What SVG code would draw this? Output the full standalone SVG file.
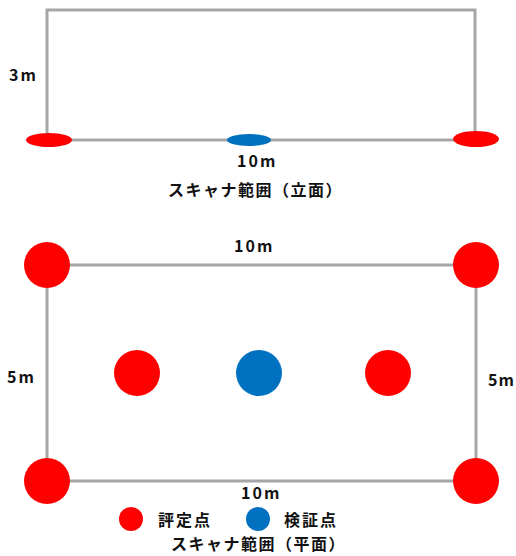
<svg xmlns="http://www.w3.org/2000/svg" width="516" height="556" viewBox="0 0 516 556">
<style>
.ln{stroke:#a6a6a6;stroke-width:3;fill:none}
.red{fill:#ff0000}
.blue{fill:#0070c0}
text{font-family:"Noto Sans CJK JP","Liberation Sans",sans-serif;font-weight:bold;font-size:16px;fill:#111;letter-spacing:2px}
.t{letter-spacing:1.5px}
.n{letter-spacing:1px}
</style>
<rect width="516" height="556" fill="#fff"/>
<g id="connectors">
<polyline class="ln" points="47,140 47,10 475,10 475,139"/>
<line class="ln" x1="47" y1="140" x2="475" y2="140"/>
<rect class="ln" x="47" y="265" width="429" height="216"/>
</g>
<g id="elev-left"><ellipse class="red" cx="49" cy="140" rx="23" ry="7"/></g>
<g id="elev-mid"><ellipse class="blue" cx="249" cy="140" rx="22" ry="6"/></g>
<g id="elev-right"><ellipse class="red" cx="476" cy="139" rx="23" ry="8"/></g>
<g id="p-tl"><circle class="red" cx="47" cy="265" r="23"/></g>
<g id="p-tr"><circle class="red" cx="476" cy="265" r="23"/></g>
<g id="p-bl"><circle class="red" cx="47" cy="481" r="23"/></g>
<g id="p-br"><circle class="red" cx="476" cy="481" r="23"/></g>
<g id="p-m1"><circle class="red" cx="137" cy="373" r="23"/></g>
<g id="p-m2"><circle class="blue" cx="259" cy="373" r="23"/></g>
<g id="p-m3"><circle class="red" cx="388" cy="373" r="23"/></g>
<g id="labels">
<text x="9" y="81">3m</text>
<text x="237" y="167">10m</text>
<text class="t" x="168" y="196">スキャナ範囲（立面）</text>
<text x="234" y="252">10m</text>
<text x="7" y="383">5m</text>
<text class="n" x="488" y="386">5m</text>
<text x="241" y="499">10m</text>
<text class="t" x="171" y="550">スキャナ範囲（平面）</text>
</g>
<g id="legend">
<circle class="red" cx="131" cy="519" r="12"/>
<text x="158" y="526">評定点</text>
<circle class="blue" cx="258" cy="519" r="12"/>
<text x="284" y="526">検証点</text>
</g>
</svg>
